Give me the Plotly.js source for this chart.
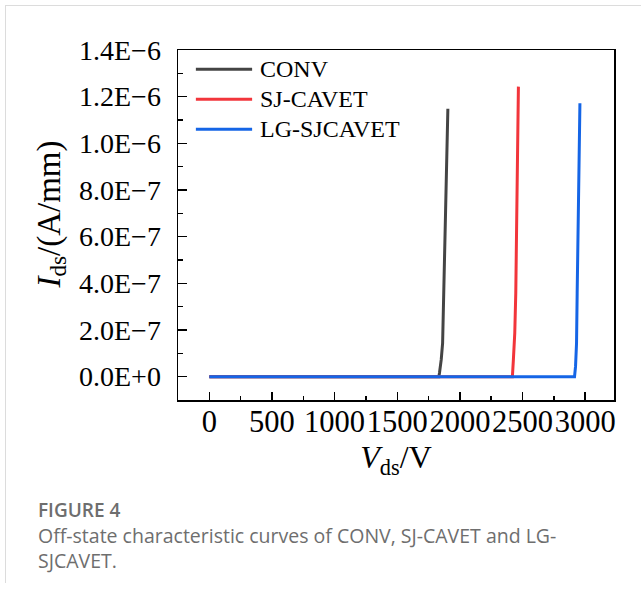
<!DOCTYPE html>
<html>
<head>
<meta charset="utf-8">
<script src="https://cdn.plot.ly/plotly-3.0.1.min.js"></script>
<style>
  html, body { margin: 0; padding: 0; background: #ffffff; }
  #wrap { position: relative; width: 641px; height: 592px; overflow: hidden; }
  #card { position: absolute; left: 5px; top: 5px; width: 640px; height: 578px;
          border-left: 1px solid #dcdcdc; border-top: 1px solid #dcdcdc; box-sizing: border-box; }
  #chart { position: absolute; left: 0; top: 0; width: 641px; height: 592px; }
  #caption { position: absolute; left: 38px; top: 497px; width: 590px;
             font-family: "Open Sans", "Noto Sans", sans-serif; color: #6e6e6e; }
  #caption .fig { font-size: 19px; font-weight: 600; line-height: 26px; }
  #caption .txt { font-size: 19.5px; font-weight: 400; line-height: 25px; }
</style>
</head>
<body>
<div id="wrap">
  <div id="card"></div>
  <div id="chart"></div>
  <div id="caption">
    <div class="fig">FIGURE 4</div>
    <div class="txt">Off-state characteristic curves of CONV, SJ-CAVET and LG-<br>SJCAVET.</div>
  </div>
</div>
<script>
// ---- data ----
const seriesNames = ["CONV", "SJ-CAVET", "LG-SJCAVET"];
const seriesColors = ["#444444", "#f2353b", "#1565e6"];

const convV = [0, 1832, 1837, 1851, 1862, 1870, 1875, 1880, 1886, 1891, 1896, 1902, 1904];
const convI = [0, 0, 0.016e-6, 0.073e-6, 0.144e-6, 0.287e-6, 0.43e-6, 0.573e-6, 0.715e-6, 0.815e-6, 0.972e-6, 1.072e-6, 1.148e-6];

const sjV = [0, 2419, 2427, 2438, 2446, 2454, 2462, 2467];
const sjI = [0, 0, 0.073e-6, 0.187e-6, 0.358e-6, 0.644e-6, 0.972e-6, 1.243e-6];

const lgV = [0, 2915, 2923, 2931, 2936, 2944, 2952, 2958];
const lgI = [0, 0, 0.044e-6, 0.144e-6, 0.358e-6, 0.644e-6, 0.929e-6, 1.172e-6];

const xTickVals = [0, 500, 1000, 1500, 2000, 2500, 3000];
const yTickVals = [0, 2e-7, 4e-7, 6e-7, 8e-7, 1.0e-6, 1.2e-6, 1.4e-6];
const yTickText = ["0.0E+0", "2.0E\u22127", "4.0E\u22127", "6.0E\u22127", "8.0E\u22127", "1.0E\u22126", "1.2E\u22126", "1.4E\u22126"];

const xTitle = "<i>V</i><sub>ds</sub>/V";
const yTitle = "<i>I</i><sub>ds</sub>/(A/mm)";

// ---- traces ----
const xs = [convV, sjV, lgV];
const ys = [convI, sjI, lgI];
const traces = xs.map((x, i) => ({
  x: x, y: ys[i], type: "scatter", mode: "lines", name: seriesNames[i],
  line: { color: seriesColors[i], width: 3 }, showlegend: false
}));

const serif = "Liberation Serif, Times New Roman, serif";

// ---- custom legend (long line samples like the original) ----
const legTop = 0.945, legStep = 0.0857;
const shapes = [], annotations = [];
seriesNames.forEach((n, i) => {
  const yy = legTop - i * legStep;
  shapes.push({ type: "line", xref: "paper", yref: "paper", x0: 0.041, x1: 0.170, y0: yy, y1: yy,
                line: { color: seriesColors[i], width: 3 } });
  annotations.push({ xref: "paper", yref: "paper", x: 0.183, y: yy, xanchor: "left", yanchor: "middle",
                     text: n, showarrow: false, font: { family: serif, size: 24, color: "#000" } });
});
// y-axis title, placed like the original (slightly above centre)
annotations.push({ xref: "paper", yref: "paper", x: 0, y: 0.53, xshift: -127, xanchor: "center", yanchor: "middle",
                   textangle: -90, text: yTitle, showarrow: false, font: { family: serif, size: 33, color: "#000" } });

const layout = {
  width: 641, height: 592,
  margin: { l: 178, r: 27, t: 50, b: 192 },
  paper_bgcolor: "rgba(0,0,0,0)", plot_bgcolor: "rgba(0,0,0,0)",
  font: { family: serif, color: "#000" },
  xaxis: {
    range: [-250, 3230], tickmode: "array", tickvals: xTickVals, tickangle: 0,
    ticks: "inside", ticklen: 8, tickwidth: 1.5, tickcolor: "#000",
    minor: { tickmode: "linear", tick0: 0, dtick: 250, ticks: "inside", ticklen: 4, tickwidth: 1.5, tickcolor: "#000" },
    showline: true, linecolor: "#000", linewidth: 1.5, mirror: true,
    showgrid: false, zeroline: false,
    tickfont: { family: serif, size: 30.5, color: "#000" },
    ticklabelstandoff: -6,
    title: { text: xTitle, font: { family: serif, size: 32, color: "#000" }, standoff: 2 }
  },
  yaxis: {
    range: [-1e-7, 1.4e-6], tickmode: "array", tickvals: yTickVals, ticktext: yTickText,
    ticks: "inside", ticklen: 9, tickwidth: 1.5, tickcolor: "#000",
    minor: { tickmode: "linear", tick0: 0, dtick: 1e-7, ticks: "inside", ticklen: 5, tickwidth: 1.5, tickcolor: "#000" },
    showline: true, linecolor: "#000", linewidth: 1.5, mirror: true,
    showgrid: false, zeroline: false,
    tickfont: { family: serif, size: 28, color: "#000" },
    ticklabelstandoff: 10
  },
  shapes: shapes,
  annotations: annotations
};

Plotly.newPlot("chart", traces, layout, { displayModeBar: false, staticPlot: true });
</script>
</body>
</html>
